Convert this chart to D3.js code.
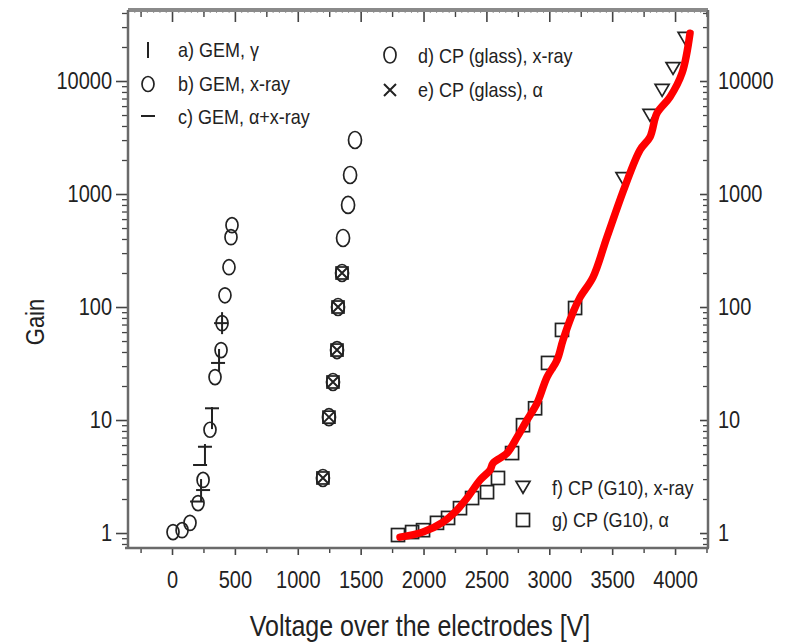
<!DOCTYPE html>
<html><head><meta charset="utf-8">
<script src="https://cdn.jsdelivr.net/npm/d3@7"></script>
<style>body{margin:0;background:#fff}text{font-family:"Liberation Sans",Arial,sans-serif}</style>
</head><body>
<svg id="c" width="785" height="644"></svg>
<script>
// ---------- data ----------
const xTickValues = [0, 500, 1000, 1500, 2000, 2500, 3000, 3500, 4000];
const xMinorValues = [-250, 250, 750, 1250, 1750, 2250, 2750, 3250, 3750, 4250];
const yTickValues = [1, 10, 100, 1000, 10000];

// a) GEM, gamma (vertical bar markers)
const gemGammaV = [231, 262, 318, 374, 398];
const gemGammaG = [2.4, 4.9, 10.4, 34, 72];
// b) GEM, x-ray (circles)
const gemXrayV = [8, 80, 143, 207, 247, 302, 342, 390, 398, 421, 453, 469, 477];
const gemXrayG = [1.02, 1.06, 1.23, 1.84, 2.95, 8.2, 24, 41.6, 72, 127, 225, 415, 530];
// c) GEM, alpha + x-ray (horizontal dash markers)
const gemAlphaV = [199, 247, 223, 262, 318, 366, 390];
const gemAlphaG = [1.9, 2.4, 4.0, 5.8, 12.7, 32, 72];
// d) CP (glass), x-ray (circles)
const glassXrayV = [1200, 1248, 1280, 1312, 1320, 1352, 1360, 1400, 1416, 1455];
const glassXrayG = [3.07, 10.6, 21.7, 41.6, 100, 200, 408, 800, 1473, 3006];
// e) CP (glass), alpha (crosses)
const glassAlphaV = [1200, 1248, 1280, 1312, 1320, 1352];
const glassAlphaG = [3.07, 10.6, 21.7, 41.6, 100, 200];
// f) CP (G10), x-ray (down triangles)
const g10XrayV = [3586, 3801, 3897, 3984, 4080];
const g10XrayG = [1380, 5000, 8320, 13000, 24000];
// g) CP (G10), alpha (squares)
const g10AlphaV = [1797, 1909, 1996, 2107, 2195, 2290, 2386, 2505, 2592, 2704, 2791, 2887, 2990, 3101, 3205];
const g10AlphaG = [0.96, 1.02, 1.06, 1.23, 1.36, 1.66, 2.04, 2.3, 3.07, 5.1, 9.0, 12.7, 32, 62.7, 98];
// red hand-drawn trace
const redV = [1813, 1996, 2155, 2250, 2346, 2449, 2529, 2553, 2664, 2744, 2823, 2903, 2982, 3062, 3109, 3189, 3245, 3348, 3459, 3602, 3722, 3801, 3857, 3960, 4056, 4119];
const redG = [0.92, 1.02, 1.25, 1.53, 2.04, 2.94, 3.61, 4.16, 5.1, 7.06, 10, 14.1, 24, 34, 51, 90, 122, 184, 417, 1170, 2460, 3200, 5200, 7220, 11800, 26500];

const legendLabels = ["a) GEM, γ", "b) GEM, x-ray", "c) GEM, α+x-ray", "d) CP (glass), x-ray", "e) CP (glass), α", "f) CP (G10), x-ray", "g) CP (G10), α"];
const xTitle = "Voltage over the electrodes [V]";
const yTitle = "Gain";

// ---------- layout ----------
const L = 128, R = 708, T = 10, B = 548;
const x = d3.scaleLinear().domain([-350, 4262]).range([L, R]);
const y = d3.scaleLog().domain([0.737, 42500]).range([B, T]);
const svg = d3.select("#c");
const SY = 1.15;
const ink = "#222";

const zip = (vs, gs) => vs.map((v, i) => [v, gs[i]]);
const minorY = [];
for (let e = -1; e <= 4; e++) for (let m = 2; m <= 9; m++) { const v = m * Math.pow(10, e); if (v >= 0.737 && v <= 42500) minorY.push(v); }

function styleAxis(g, w) {
  g.select(".domain").remove();
  g.selectAll(".tick line").attr("stroke", "#444").attr("stroke-width", w);
  g.selectAll("text").attr("fill", ink).attr("font-size", 20);
}

// bottom axis
const gb = svg.append("g").attr("transform", `translate(0,${B})`)
  .call(d3.axisBottom(x).tickValues(xTickValues).tickSize(7).tickFormat(d3.format("d")));
styleAxis(gb, 1.6);
gb.selectAll("text").attr("y", 21).attr("dy", "0.71em").attr("transform", `scale(1,${SY})`);
const gbm = svg.append("g").attr("transform", `translate(0,${B})`)
  .call(d3.axisBottom(x).tickValues(xMinorValues.filter(v => v < 4262)).tickSize(5).tickFormat(""));
styleAxis(gbm, 1.4);

// top axis (ticks inward)
const topDense = d3.range(-350, 4262, 50);
const gtd = svg.append("g").attr("transform", `translate(0,${T})`)
  .call(d3.axisTop(x).tickValues(topDense).tickSize(-3).tickFormat(""));
styleAxis(gtd, 1);
gtd.selectAll(".tick line").attr("stroke", "#999");
const gt = svg.append("g").attr("transform", `translate(0,${T})`)
  .call(d3.axisTop(x).tickValues(xTickValues).tickSize(-12).tickFormat(""));
styleAxis(gt, 1.6);
const gtm = svg.append("g").attr("transform", `translate(0,${T})`)
  .call(d3.axisTop(x).tickValues(xMinorValues.filter(v => v < 4262)).tickSize(-7).tickFormat(""));
styleAxis(gtm, 1.4);

// left axis
const gl = svg.append("g").attr("transform", `translate(${L},0)`)
  .call(d3.axisLeft(y).tickValues(yTickValues).tickSize(12).tickPadding(4).tickFormat(d3.format("d")));
styleAxis(gl, 1.6);
gl.selectAll("text").attr("transform", `scale(1,${SY})`).attr("y", 0).attr("dy", "0.32em");
gl.selectAll(".tick").each(function(d){ d3.select(this).select("text").attr("transform", `scale(1,${SY})`); });
const glm = svg.append("g").attr("transform", `translate(${L},0)`)
  .call(d3.axisLeft(y).tickValues(minorY).tickSize(6).tickFormat(""));
styleAxis(glm, 1.3);

// right axis (ticks inward, labels outside)
const gr = svg.append("g").attr("transform", `translate(${R},0)`)
  .call(d3.axisRight(y).tickValues(yTickValues).tickSize(-8).tickPadding(10).tickFormat(d3.format("d")));
styleAxis(gr, 1.6);
gr.selectAll("text").attr("transform", `scale(1,${SY})`);
const grm = svg.append("g").attr("transform", `translate(${R},0)`)
  .call(d3.axisRight(y).tickValues(minorY).tickSize(-5).tickFormat(""));
styleAxis(grm, 1.3);

// frame
svg.append("line").attr("x1", L).attr("x2", R).attr("y1", T).attr("y2", T).attr("stroke", "#8a8a8a").attr("stroke-width", 4);
svg.append("line").attr("x1", L - 3).attr("x2", R + 1).attr("y1", B).attr("y2", B).attr("stroke", "#6a6a6a").attr("stroke-width", 2.5);
svg.append("line").attr("x1", L).attr("x2", L).attr("y1", T).attr("y2", B).attr("stroke", "#6a6a6a").attr("stroke-width", 2.5);
svg.append("line").attr("x1", R).attr("x2", R).attr("y1", T).attr("y2", B).attr("stroke", "#6a6a6a").attr("stroke-width", 2.5);

// ---------- marker helpers ----------
const plot = svg.append("g");
function ellipseAt(g, cx, cy, rx, ry) {
  g.append("ellipse").attr("cx", cx).attr("cy", cy).attr("rx", rx).attr("ry", ry)
    .attr("fill", "none").attr("stroke", ink).attr("stroke-width", 1.7);
}
function crossAt(g, cx, cy, s) {
  g.append("path").attr("d", `M${cx - s},${cy - s}L${cx + s},${cy + s}M${cx - s},${cy + s}L${cx + s},${cy - s}`)
    .attr("stroke", ink).attr("stroke-width", 2).attr("fill", "none");
}
function squareAt(g, cx, cy, s) {
  g.append("rect").attr("x", cx - s).attr("y", cy - s).attr("width", 2 * s).attr("height", 2 * s)
    .attr("fill", "none").attr("stroke", ink).attr("stroke-width", 1.7);
}
function triAt(g, cx, cy, s) {
  g.append("path").attr("d", `M${cx - s},${cy - s * 0.8}L${cx + s},${cy - s * 0.8}L${cx},${cy + s * 0.9}Z`)
    .attr("fill", "none").attr("stroke", ink).attr("stroke-width", 1.7);
}
function vbarAt(g, cx, cy, h) {
  g.append("line").attr("x1", cx).attr("x2", cx).attr("y1", cy - h).attr("y2", cy + h).attr("stroke", ink).attr("stroke-width", 2);
}
function hbarAt(g, cx, cy, w) {
  g.append("line").attr("x1", cx - w).attr("x2", cx + w).attr("y1", cy).attr("y2", cy).attr("stroke", ink).attr("stroke-width", 2);
}

zip(gemXrayV, gemXrayG).forEach(([v, g]) => ellipseAt(plot, x(v), y(g), 6, 7.5));
zip(gemGammaV, gemGammaG).forEach(([v, g]) => vbarAt(plot, x(v), y(g), 11));
zip(gemAlphaV, gemAlphaG).forEach(([v, g]) => hbarAt(plot, x(v), y(g), 7));
zip(glassXrayV, glassXrayG).forEach(([v, g]) => ellipseAt(plot, x(v), y(g), 6.5, 8.5));
zip(glassAlphaV, glassAlphaG).forEach(([v, g]) => { crossAt(plot, x(v), y(g), 5.5); squareAt(plot, x(v), y(g), 6); });
zip(g10XrayV, g10XrayG).forEach(([v, g]) => triAt(plot, x(v), y(g), 7));
zip(g10AlphaV, g10AlphaG).forEach(([v, g]) => squareAt(plot, x(v), y(g), 6.5));

// red trace
svg.append("path").datum(zip(redV, redG))
  .attr("d", d3.line().x(d => x(d[0])).y(d => y(d[1])).curve(d3.curveCatmullRom))
  .attr("fill", "none").attr("stroke", "#ff0000").attr("stroke-width", 7.5)
  .attr("stroke-linecap", "round").attr("stroke-linejoin", "round");

// ---------- legend ----------
function label(str, tx, ty, size, anchor, rot) {
  const t = svg.append("text").attr("transform", `translate(${tx},${ty}) rotate(${rot || 0}) scale(1,${SY})`)
    .attr("font-size", size).attr("fill", ink).attr("text-anchor", anchor || "start").attr("dy", "0.35em").text(str);
  return t;
}
const lg = svg.append("g");
vbarAt(lg, 148, 50, 8);
ellipseAt(lg, 148, 84, 6, 7.5);
hbarAt(lg, 148, 116, 7);
ellipseAt(lg, 390, 55, 6, 8);
crossAt(lg, 390, 90, 6);
triAt(lg, 523, 487, 7);
squareAt(lg, 523, 520, 6.5);
label(legendLabels[0], 178, 50, 18);
label(legendLabels[1], 178, 84, 18);
label(legendLabels[2], 178, 117, 18);
label(legendLabels[3], 418, 56, 18);
label(legendLabels[4], 418, 90, 18);
label(legendLabels[5], 552, 488, 18);
label(legendLabels[6], 552, 520, 18);

// titles
label(xTitle, 420, 626, 25, "middle");
label(yTitle, 35, 322, 22, "middle", -90);
</script>
</body></html>
